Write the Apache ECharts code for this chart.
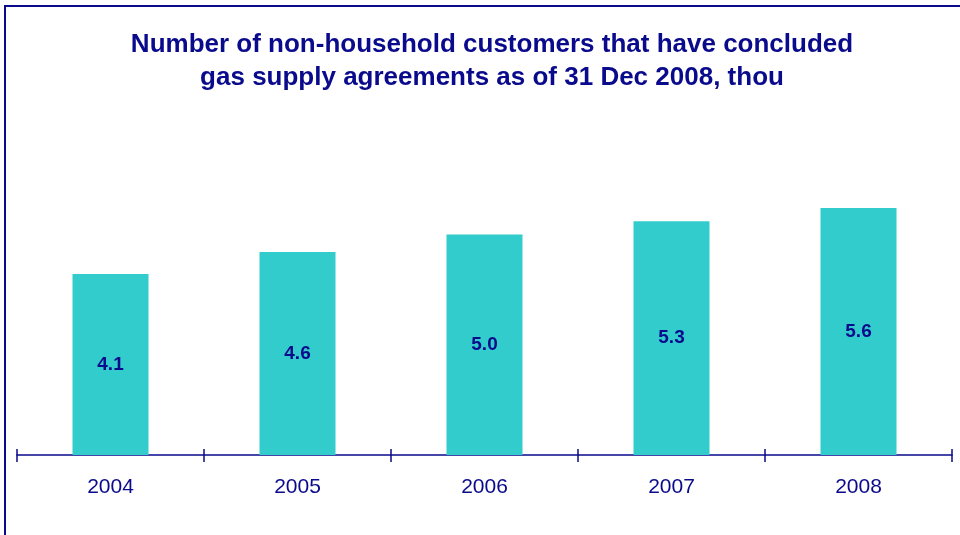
<!DOCTYPE html>
<html>
<head>
<meta charset="utf-8">
<script src="https://cdn.jsdelivr.net/npm/echarts@6/dist/echarts.min.js"></script>
<style>
html,body{margin:0;padding:0;background:#fff;}
#chart{width:960px;height:535px;}
</style>
</head>
<body>
<div id="chart"></div>
<script>
const categories = ['2004', '2005', '2006', '2007', '2008'];
const values = [4.1, 4.6, 5.0, 5.3, 5.6];
const titleText = 'Number of non-household customers that have concluded\ngas supply agreements as of 31 Dec 2008, thou';

const navy = '#0A0A8C';
const chart = echarts.init(document.getElementById('chart'));
chart.setOption({
  backgroundColor: '#ffffff',
  animation: false,
  title: {
    text: titleText,
    left: 487,
    top: 23,
    textAlign: 'center',
    textStyle: {
      fontFamily: 'Liberation Sans, Arial, sans-serif',
      fontSize: 26,
      fontWeight: 'bold',
      color: navy,
      lineHeight: 33
    }
  },
  graphic: [{
    type: 'rect',
    shape: { x: 5, y: 6, width: 1100, height: 1000 },
    style: { fill: 'none', stroke: navy, lineWidth: 2 },
    silent: true
  }],
  grid: { left: 17, right: 8, top: 102, bottom: 80 },
  xAxis: [{
    type: 'category',
    data: categories,
    axisLine: { lineStyle: { color: navy, width: 1.5 } },
    axisTick: { show: true, length: 7, lineStyle: { color: navy, width: 1.5 } },
    axisLabel: {
      margin: 22,
      fontFamily: 'Liberation Sans, Arial, sans-serif',
      fontSize: 21,
      color: navy
    }
  }, {
    type: 'category',
    data: categories,
    position: 'bottom',
    axisLine: { show: false },
    axisTick: { show: true, inside: true, length: 6, lineStyle: { color: navy, width: 1.5 } },
    axisLabel: { show: false }
  }],
  yAxis: {
    type: 'value',
    min: 0,
    max: 8,
    show: false,
    splitLine: { show: false }
  },
  series: [{
    type: 'bar',
    data: values,
    barWidth: 76,
    itemStyle: { color: '#33CCCC' },
    label: {
      show: true,
      position: 'inside',
      formatter: p => p.value.toFixed(1),
      fontFamily: 'Liberation Sans, Arial, sans-serif',
      fontSize: 19,
      fontWeight: 'bold',
      color: navy
    }
  }]
});
</script>
</body>
</html>
